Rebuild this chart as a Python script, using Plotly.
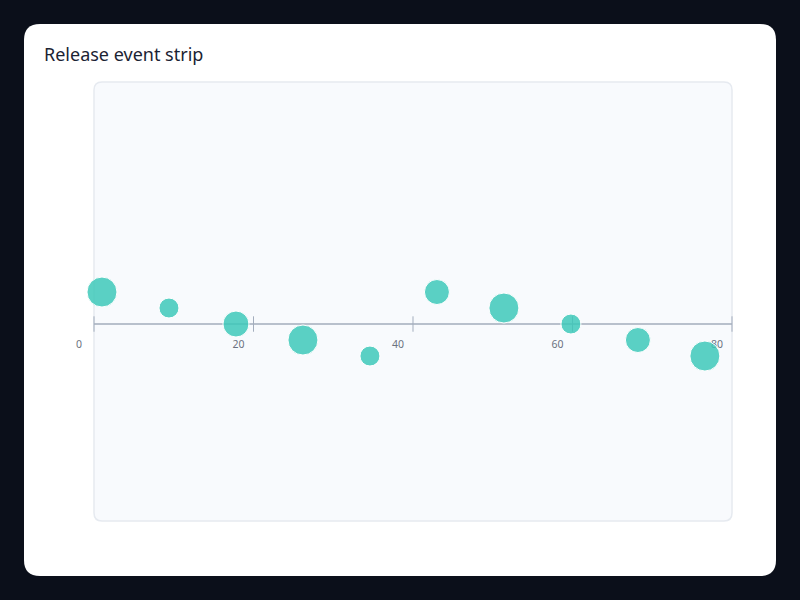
import plotly.graph_objects as go

# event data
event_x = [1, 9.4, 17.8, 26.2, 34.6, 43, 51.4, 59.8, 68.2, 76.6]
event_lane = [2, 1, 0, -1, -2, 2, 1, 0, -1, -2]
event_weight = [6, 4, 5.2, 6, 4, 5, 6, 4, 5, 6]
tick_vals = [0, 20, 40, 60, 80]
tick_text = ["0", "20", "40", "60", "80"]

W, H = 800, 600


def px(x):
    return x / W


def py(y):
    return 1 - y / H


def rounded_rect(x0, y0, x1, y1, r):
    # rounded rectangle in pixel coords -> paper path
    pts = [
        f"M {px(x0 + r)} {py(y0)}",
        f"L {px(x1 - r)} {py(y0)}",
        f"Q {px(x1)} {py(y0)} {px(x1)} {py(y0 + r)}",
        f"L {px(x1)} {py(y1 - r)}",
        f"Q {px(x1)} {py(y1)} {px(x1 - r)} {py(y1)}",
        f"L {px(x0 + r)} {py(y1)}",
        f"Q {px(x0)} {py(y1)} {px(x0)} {py(y1 - r)}",
        f"L {px(x0)} {py(y0 + r)}",
        f"Q {px(x0)} {py(y0)} {px(x0 + r)} {py(y0)}",
        "Z",
    ]
    return " ".join(pts)


fig = go.Figure()

# tick marks crossing the axis line
fig.add_trace(go.Scatter(
    x=tick_vals,
    y=[0] * len(tick_vals),
    mode="markers",
    marker=dict(symbol="line-ns", size=11, line=dict(color="#a3adbd", width=1)),
    cliponaxis=False,
    hoverinfo="skip",
))

fig.add_trace(go.Scatter(
    x=event_x,
    y=event_lane,
    mode="markers",
    marker=dict(
        size=event_weight,
        sizemode="diameter",
        sizeref=0.2,
        color="rgba(58,200,184,0.83)",
        opacity=1,
        line=dict(color="white", width=1),
    ),
    cliponaxis=False,
    hoverinfo="skip",
))

fig.update_layout(
    width=W,
    height=H,
    margin=dict(l=0, r=0, t=0, b=0, autoexpand=False),
    paper_bgcolor="#0b0f1a",
    plot_bgcolor="rgba(0,0,0,0)",
    showlegend=False,
    hovermode=False,
    title=dict(
        text="Release event strip",
        x=px(44), xanchor="left",
        y=py(55), yanchor="middle",
        font=dict(family="Noto Sans", size=18, color="#1b2333"),
    ),
    xaxis=dict(
        domain=[px(94), px(732)],
        range=[0, 80],
        anchor="free",
        position=py(324),
        automargin=False,
        showgrid=False,
        zeroline=False,
        showline=True,
        linecolor="#b8c0cc",
        linewidth=2,
        ticks="",
        tickvals=tick_vals,
        ticktext=tick_text,
        ticklabelshift=-15,
        ticklabelstandoff=10,
        tickfont=dict(family="Noto Sans", size=10.5, color="#6b7280"),
        layer="below traces",
        fixedrange=True,
    ),
    yaxis=dict(
        domain=[py(521), py(82)],
        range=[-12.31, 15.125],
        visible=False,
        automargin=False,
        fixedrange=True,
    ),
    shapes=[
        dict(type="path", xref="paper", yref="paper", layer="below",
             path=rounded_rect(24, 24, 776, 576, 16),
             fillcolor="#ffffff", line=dict(width=0)),
        dict(type="path", xref="paper", yref="paper", layer="below",
             path=rounded_rect(94, 82, 732, 521, 8),
             fillcolor="#f8fafd", line=dict(color="#e6eaf0", width=1.5)),
    ],
)

fig.write_html(
    "out.html",
    config={"displayModeBar": False},
    post_script="document.body.style.margin='0';",
)
